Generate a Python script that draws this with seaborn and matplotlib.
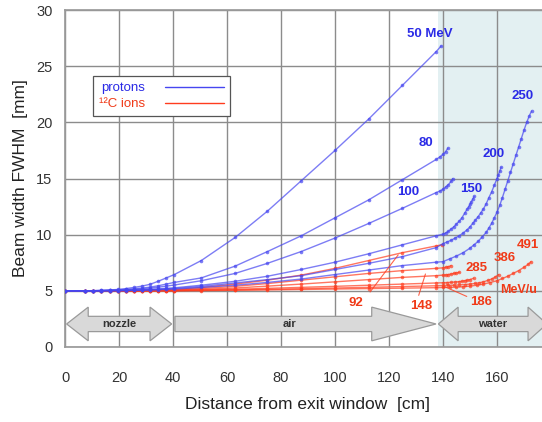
import numpy as np
import pandas as pd
import matplotlib
matplotlib.use("Agg")
import matplotlib.pyplot as plt
from matplotlib.lines import Line2D
from matplotlib.patches import Polygon
import seaborn as sns

# positions along the beam line (nozzle + air), cm
X_AIR = [0, 7.5, 10.5, 13.5, 16.5, 19.5, 22.5, 25.5, 28.5, 31.5, 34.5, 37.5,
         40.5, 50.5, 63, 75, 87.5, 100, 112.5, 125, 137.5]

# protons, FWHM [mm] on X_AIR, then points inside water
P50 = [5.0, 5.0, 5.02, 5.05, 5.08, 5.12, 5.2, 5.3, 5.42, 5.58, 5.85, 6.15,
       6.45, 7.7, 9.75, 12.1, 14.8, 17.5, 20.3, 23.3, 26.3]
P50_WX = [139.3]
P50_WY = [26.8]

P80 = [5.0, 5.0, 5.01, 5.03, 5.05, 5.08, 5.12, 5.18, 5.25, 5.33, 5.45, 5.6,
       5.75, 6.15, 7.2, 8.5, 9.9, 11.5, 13.1, 14.9, 16.7]
P80_WX = [139, 140, 141, 141.8]
P80_WY = [16.95, 17.15, 17.4, 17.7]

P100 = [5.0, 5.0, 5.0, 5.02, 5.04, 5.06, 5.09, 5.13, 5.18, 5.24, 5.32, 5.42,
        5.52, 5.9, 6.55, 7.45, 8.5, 9.7, 11.0, 12.35, 13.75]
P100_WX = [139, 140, 141, 142, 143, 143.6]
P100_WY = [13.9, 14.05, 14.25, 14.45, 14.75, 15.0]

P150 = [5.0, 5.0, 5.0, 5.01, 5.02, 5.03, 5.05, 5.07, 5.1, 5.13, 5.17, 5.22,
        5.27, 5.5, 5.85, 6.3, 6.9, 7.55, 8.3, 9.1, 9.9]
P150_WX = [140, 141, 142, 143, 144, 145, 146, 147, 148, 149, 149.5, 150, 150.5, 151, 151.5]
P150_WY = [10.05, 10.15, 10.3, 10.5, 10.7, 10.95, 11.2, 11.5, 11.9, 12.3, 12.5, 12.7,
           12.95, 13.15, 13.4]

P200 = [5.0, 5.0, 5.0, 5.0, 5.01, 5.02, 5.03, 5.05, 5.07, 5.1, 5.13, 5.17,
        5.21, 5.4, 5.7, 6.0, 6.35, 6.9, 7.45, 8.05, 8.85]
P200_WX = [140, 141.5, 143, 144.5, 146, 147.5, 149, 150, 151, 152, 153, 154, 155, 156,
           157, 158, 159, 160, 160.5, 161, 161.5]
P200_WY = [9.2, 9.35, 9.5, 9.7, 9.9, 10.15, 10.45, 10.7, 11.0, 11.3, 11.6, 11.95, 12.3,
           12.75, 13.3, 13.8, 14.4, 15.0, 15.3, 15.65, 16.0]

P250 = [5.0, 5.0, 5.0, 5.0, 5.01, 5.01, 5.02, 5.04, 5.05, 5.07, 5.1, 5.13,
        5.16, 5.3, 5.5, 5.75, 6.05, 6.45, 6.85, 7.25, 7.55]
P250_WX = [140, 142.5, 145, 147.5, 150, 151.5, 153, 154.5, 156, 157, 158, 159, 160, 161,
           162, 163, 164, 165, 166, 167, 168, 169, 170, 171, 172, 172.8]
P250_WY = [7.6, 7.85, 8.1, 8.4, 8.8, 9.1, 9.4, 9.8, 10.2, 10.6, 11.0, 11.5, 12.0, 12.6,
           13.3, 14.05, 14.8, 15.55, 16.3, 17.05, 17.8, 18.55, 19.3, 20.0, 20.6, 21.0]

# carbon ions
C92 = [5.0, 5.0, 5.0, 5.0, 5.01, 5.01, 5.02, 5.03, 5.04, 5.05, 5.06, 5.08,
       5.1, 5.3, 5.6, 5.95, 6.4, 7.0, 7.7, 8.4, 9.0]
C92_WX = [139.5]
C92_WY = [9.1]

C148 = [5.0, 5.0, 5.0, 5.0, 5.0, 5.01, 5.01, 5.02, 5.03, 5.04, 5.05, 5.05,
        5.06, 5.2, 5.4, 5.65, 5.95, 6.25, 6.55, 6.8, 7.0]
C148_WX = [140, 141, 142, 143]
C148_WY = [7.05, 7.1, 7.15, 7.25]

C186 = [5.0, 5.0, 5.0, 5.0, 5.0, 5.0, 5.01, 5.01, 5.02, 5.02, 5.03, 5.03,
        5.04, 5.12, 5.25, 5.42, 5.6, 5.8, 6.0, 6.2, 6.35]
C186_WX = [140, 141, 142, 143, 144, 145, 146]
C186_WY = [6.4, 6.42, 6.45, 6.5, 6.55, 6.6, 6.65]

C285 = [5.0, 5.0, 5.0, 5.0, 5.0, 5.0, 5.0, 5.01, 5.01, 5.01, 5.02, 5.02,
        5.02, 5.07, 5.14, 5.22, 5.31, 5.4, 5.5, 5.6, 5.7]
C285_WX = [140, 141.5, 143, 144.5, 146, 147, 148, 149, 150, 151.3]
C285_WY = [5.72, 5.74, 5.76, 5.79, 5.82, 5.86, 5.9, 5.95, 6.0, 6.12]

C386 = [5.0, 5.0, 5.0, 5.0, 5.0, 5.0, 5.0, 5.0, 5.0, 5.01, 5.01, 5.01,
        5.01, 5.04, 5.08, 5.13, 5.19, 5.25, 5.31, 5.38, 5.45]
C386_WX = [140, 142, 144, 146, 148, 150, 152, 153.5, 155, 156.5, 158, 159.3, 160.6]
C386_WY = [5.47, 5.48, 5.5, 5.53, 5.56, 5.6, 5.66, 5.72, 5.8, 5.92, 6.05, 6.22, 6.45]

C491 = [5.0, 5.0, 5.0, 5.0, 5.0, 5.0, 5.0, 5.0, 5.0, 5.0, 5.0, 5.01,
        5.01, 5.02, 5.05, 5.08, 5.12, 5.16, 5.2, 5.24, 5.28]
C491_WX = [140, 142.5, 145, 147.5, 150, 152.5, 155, 157.5, 160, 162, 164, 166, 168,
           170, 171.5, 172.6]
C491_WY = [5.3, 5.31, 5.33, 5.37, 5.42, 5.5, 5.6, 5.74, 5.9, 6.1, 6.3, 6.55, 6.8,
           7.1, 7.35, 7.6]

PROTON_LABELS = ["50 MeV", "80", "100", "150", "200", "250"]
PROTON_LABEL_X = [135.2, 133.6, 127.2, 150.4, 158.9, 169.4]
PROTON_LABEL_Y = [27.9, 18.2, 13.8, 14.1, 17.2, 22.3]

CARBON_LABELS = ["92", "148", "186", "285", "386", "491"]
CARBON_LABEL_X = [107.8, 132.1, 154.3, 152.5, 163.0, 171.6]
CARBON_LABEL_Y = [3.9, 3.65, 4.0, 7.0, 7.95, 9.05]

BLUE = "#4646f0"
RED = "#ff3c1e"
BLUE_TXT = "#2a2ae6"
RED_TXT = "#f03a18"

curves = [
    ("p50", "protons", P50, P50_WX, P50_WY),
    ("p80", "protons", P80, P80_WX, P80_WY),
    ("p100", "protons", P100, P100_WX, P100_WY),
    ("p150", "protons", P150, P150_WX, P150_WY),
    ("p200", "protons", P200, P200_WX, P200_WY),
    ("p250", "protons", P250, P250_WX, P250_WY),
    ("c92", "carbon", C92, C92_WX, C92_WY),
    ("c148", "carbon", C148, C148_WX, C148_WY),
    ("c186", "carbon", C186, C186_WX, C186_WY),
    ("c285", "carbon", C285, C285_WX, C285_WY),
    ("c386", "carbon", C386, C386_WX, C386_WY),
    ("c491", "carbon", C491, C491_WX, C491_WY),
]

rows = []
for name, particle, ys, wx, wy in curves:
    for x, y in zip(X_AIR + wx, ys + wy):
        rows.append({"beam": name, "particle": particle, "x": x, "fwhm": y})
df = pd.DataFrame(rows)

sns.set_theme(style="whitegrid")
plt.rcParams["font.family"] = ["Liberation Sans", "DejaVu Sans"]

fig = plt.figure(figsize=(5.42, 4.22), dpi=100)
ax = fig.add_axes([65 / 542, 75 / 422, 486 / 542, 337 / 422])
ax.set_xlim(0, 180)
ax.set_ylim(0, 30)

# water region
ax.axvspan(138, 180, color="#e3f0f2", zorder=0, lw=0)

for particle, color in [("carbon", RED), ("protons", BLUE)]:
    sub = df[df["particle"] == particle]
    sns.lineplot(data=sub, x="x", y="fwhm", units="beam", estimator=None,
                 sort=False, color=color, lw=1.0, alpha=0.7, marker="o",
                 markersize=2.6, markeredgewidth=0, ax=ax, legend=False, zorder=3)

ax.set_xticks(range(0, 161, 20))
ax.set_yticks(range(0, 31, 5))
ax.grid(True, color="#8c8c8c", lw=1.0)
ax.set_axisbelow(True)
for sp in ax.spines.values():
    sp.set_color("#9a9a9a")
ax.tick_params(axis="both", length=0, labelsize=10.5, colors="#333333")
ax.tick_params(axis="x", pad=17)
ax.tick_params(axis="y", pad=9)
ax.set_xlabel("Distance from exit window  [cm]", fontsize=12.5, color="#222222", labelpad=9)
ax.set_ylabel("Beam width FWHM  [mm]", fontsize=12.5, color="#222222", labelpad=6)


def arrow(x0, x1, head_l, head_r, yc=2.05, hs=0.68, hh=1.5, label="", lx=None):
    pts = []
    if head_l:
        pts += [(x0, yc), (x0 + head_l, yc + hh), (x0 + head_l, yc + hs)]
    else:
        pts += [(x0, yc - hs), (x0, yc + hs)]
    if head_r:
        pts += [(x1 - head_r, yc + hs), (x1 - head_r, yc + hh), (x1, yc),
                (x1 - head_r, yc - hh), (x1 - head_r, yc - hs)]
    else:
        pts += [(x1, yc + hs), (x1, yc - hs)]
    if head_l:
        pts += [(x0 + head_l, yc - hs), (x0 + head_l, yc - hh)]
    ax.add_patch(Polygon(pts, closed=True, fc="#d9d9d9", ec="#9a9a9a", lw=0.9, zorder=4))
    ax.text(lx if lx is not None else (x0 + x1) / 2, yc, label, ha="center", va="center",
            fontsize=8, color="#333333", fontweight="bold", zorder=5)


arrow(0.6, 39.5, 8, 8, label="nozzle", lx=20)
arrow(40.7, 137.4, 0, 23.8, label="air", lx=83.3)
arrow(138.3, 178.5, 7.3, 7, label="water", lx=158.4)

for t, x, y in zip(PROTON_LABELS, PROTON_LABEL_X, PROTON_LABEL_Y):
    ax.text(x, y, t, color=BLUE_TXT, fontsize=9.5, fontweight="bold",
            ha="center", va="center", zorder=6)
for t, x, y in zip(CARBON_LABELS, CARBON_LABEL_X, CARBON_LABEL_Y):
    ax.text(x, y, t, color=RED_TXT, fontsize=9.5, fontweight="bold",
            ha="center", va="center", zorder=6)
ax.text(161.0, 5.1, "MeV/u", color=RED_TXT, fontsize=9, fontweight="bold",
        ha="left", va="center", zorder=6)

# leader lines for carbon labels
for (xa, ya), (xb, yb) in [((113.0, 4.9), (123.4, 8.2)),
                           ((131.0, 4.6), (133.5, 6.5)),
                           ((148.8, 4.5), (140.8, 5.35))]:
    ax.plot([xa, xb], [ya, yb], color=RED, lw=0.8, alpha=0.8, zorder=5)

handles = [Line2D([], [], color=BLUE, lw=1.0), Line2D([], [], color=RED, lw=1.0)]
leg = ax.legend(handles, ["protons", "¹²C ions"], loc="upper left",
                bbox_to_anchor=(93 / 542, 1 - 76 / 422), bbox_transform=fig.transFigure,
                markerfirst=False, handlelength=4.5, fontsize=9.5, frameon=True,
                fancybox=False, borderpad=0.45, labelspacing=0.3, handletextpad=1.5,
                borderaxespad=0)
leg.get_frame().set_edgecolor("#555555")
leg.get_frame().set_linewidth(0.9)
leg.get_frame().set_alpha(1)
for txt, c in zip(leg.get_texts(), [BLUE_TXT, RED_TXT]):
    txt.set_color(c)

fig.savefig("out.png", dpi=100)
